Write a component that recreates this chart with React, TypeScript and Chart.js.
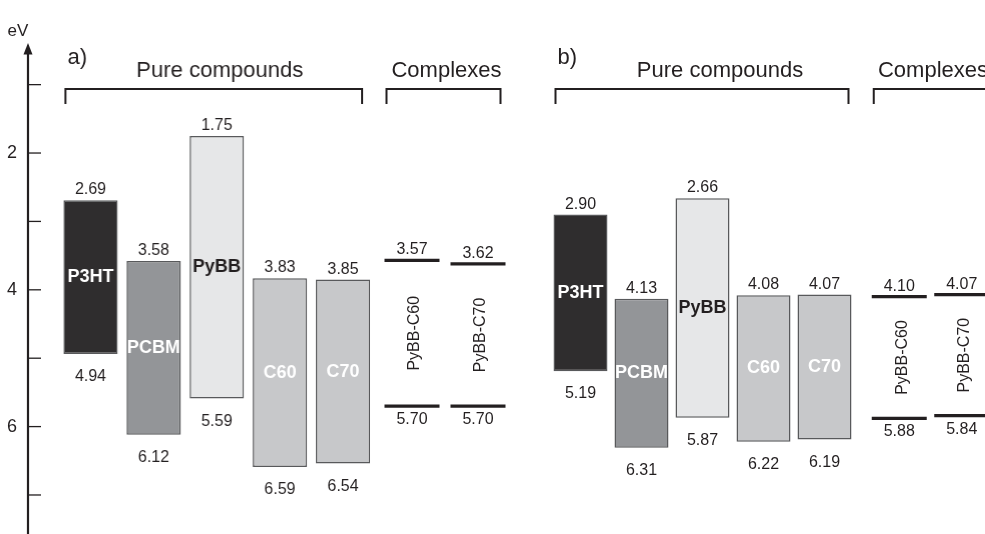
import React, { useEffect, useRef } from "react";
import { Chart, registerables } from "chart.js";

Chart.register(...registerables);

// ---------------- data ----------------
const compounds = ["P3HT", "PCBM", "PyBB", "C60", "C70"];
const complexes = ["PyBB-C60", "PyBB-C70"];

// panel a)
const lumoA = [2.69, 3.58, 1.75, 3.83, 3.85];
const homoA = [4.94, 6.12, 5.59, 6.59, 6.54];
const complexLumoA = [3.57, 3.62];
const complexHomoA = [5.7, 5.7];

// panel b)
const lumoB = [2.9, 4.13, 2.66, 4.08, 4.07];
const homoB = [5.19, 6.31, 5.87, 6.22, 6.19];
const complexLumoB = [4.1, 4.07];
const complexHomoB = [5.88, 5.84];

const yTickLabels = [2, 4, 6];
const panelLabels = ["a)", "b)"];
const groupTitles = ["Pure compounds", "Complexes"];
const axisTitle = "eV";

// ---------------- style ----------------
const FONT = "'Liberation Sans', Arial, Helvetica, sans-serif";
const INK = "#231f20";
const EDGE = "#58595b";
const FILL: Record<string, string> = {
  P3HT: "#2f2d2e",
  PCBM: "#939598",
  PyBB: "#e6e7e8",
  C60: "#c7c8ca",
  C70: "#c7c8ca",
};
const NAME_COLOR: Record<string, string> = {
  P3HT: "#ffffff",
  PCBM: "#ffffff",
  PyBB: INK,
  C60: "#ffffff",
  C70: "#ffffff",
};

const Y_MIN = 0.4;
const Y_MAX = 7.55;
const LAYOUT = { autoPadding: false, padding: { top: 43.6, bottom: 1.4, left: 0, right: 0 } };
const LINE_HALF = 27.5;

Chart.defaults.font.family = FONT;

type Group = {
  kind: "box" | "line";
  names: string[];
  top: number[];
  bottom: number[];
  title: string;
  panel: string | null;
  titleShift: number;
  rightTrim: number;
  barPct?: number;
};

const groups: Group[] = [
  { kind: "box", names: compounds, top: lumoA, bottom: homoA, title: groupTitles[0], panel: panelLabels[0], titleShift: 6, rightTrim: 8, barPct: 0.86 },
  { kind: "line", names: complexes, top: complexLumoA, bottom: complexHomoA, title: groupTitles[1], panel: null, titleShift: 3, rightTrim: 5 },
  { kind: "box", names: compounds, top: lumoB, bottom: homoB, title: groupTitles[0], panel: panelLabels[1], titleShift: 18, rightTrim: 3, barPct: 0.885 },
  { kind: "line", names: complexes, top: complexLumoB, bottom: complexHomoB, title: groupTitles[1], panel: null, titleShift: 3, rightTrim: 3 },
];

const frames = [
  { left: 59, width: 314.5 },
  { left: 378.5, width: 132 },
  { left: 550, width: 305 },
  { left: 868, width: 125 },
];

function hiddenY() {
  return { type: "linear", reverse: true, min: Y_MIN, max: Y_MAX, display: false };
}

const axisPlugin = {
  id: "axisDecor",
  afterDraw(chart: any) {
    const { ctx, chartArea } = chart;
    const ys = chart.scales.y;
    const x0 = chartArea.left;
    ctx.save();
    ctx.strokeStyle = INK;
    ctx.fillStyle = INK;
    ctx.lineWidth = 2.2;
    ctx.beginPath();
    ctx.moveTo(x0, chartArea.top + 6);
    ctx.lineTo(x0, chart.height);
    ctx.stroke();
    ctx.beginPath();
    ctx.moveTo(x0, chartArea.top - 0.5);
    ctx.lineTo(x0 - 4.5, chartArea.top + 11);
    ctx.lineTo(x0 + 4.5, chartArea.top + 11);
    ctx.closePath();
    ctx.fill();
    ctx.lineWidth = 1.3;
    ys.ticks.forEach((t: any) => {
      const py = ys.getPixelForValue(t.value);
      ctx.beginPath();
      ctx.moveTo(x0, py);
      ctx.lineTo(x0 + 13, py);
      ctx.stroke();
    });
    ctx.font = `17px ${FONT}`;
    ctx.textAlign = "center";
    ctx.textBaseline = "alphabetic";
    ctx.fillText(axisTitle, x0 - 10, chartArea.top - 8);
    ctx.restore();
  },
};

function makeAxisConfig(): any {
  return {
    type: "bar",
    data: { labels: [""], datasets: [] },
    options: {
      animation: false,
      responsive: true,
      maintainAspectRatio: false,
      events: [],
      layout: LAYOUT,
      plugins: { legend: { display: false }, tooltip: { enabled: false } },
      scales: {
        x: { display: false },
        y: {
          type: "linear",
          reverse: true,
          min: Y_MIN,
          max: Y_MAX,
          position: "left",
          grid: { display: false, drawTicks: false },
          border: { display: false },
          ticks: {
            stepSize: 1,
            includeBounds: false,
            autoSkip: false,
            padding: 11,
            color: INK,
            font: { family: FONT, size: 18 },
            callback: (v: any) => (yTickLabels.includes(Number(v)) ? String(v) : ""),
          },
          afterFit: (s: any) => {
            s.width = 28;
            s.paddingTop = 0;
            s.paddingBottom = 0;
          },
        },
      },
    },
    plugins: [axisPlugin],
  };
}

function groupPlugin(g: Group) {
  return {
    id: "groupDecor",
    afterDatasetsDraw(chart: any) {
      const { ctx } = chart;
      const xs = chart.scales.x;
      const ys = chart.scales.y;
      const n = g.names.length;
      let half = LINE_HALF;
      if (g.kind === "box") {
        const el = chart.getDatasetMeta(0).data[0];
        half = el ? el.width / 2 : LINE_HALF;
      }
      const left = xs.getPixelForValue(0) - half + 2;
      const right = xs.getPixelForValue(n - 1) + half - g.rightTrim;
      ctx.save();
      // bracket
      ctx.strokeStyle = INK;
      ctx.lineWidth = 2;
      ctx.lineJoin = "miter";
      ctx.lineCap = "butt";
      ctx.beginPath();
      ctx.moveTo(left, 104);
      ctx.lineTo(left, 89);
      ctx.lineTo(right, 89);
      ctx.lineTo(right, 104);
      ctx.stroke();
      // title & panel label
      ctx.fillStyle = INK;
      ctx.font = `22px ${FONT}`;
      ctx.textAlign = "center";
      ctx.textBaseline = "alphabetic";
      ctx.fillText(g.title, (left + right) / 2 + g.titleShift, 77);
      if (g.panel) {
        ctx.textAlign = "left";
        ctx.fillText(g.panel, left + 2, 64);
      }
      // values and names
      g.names.forEach((name, i) => {
        const cx = xs.getPixelForValue(i);
        const yt = ys.getPixelForValue(g.top[i]);
        const yb = ys.getPixelForValue(g.bottom[i]);
        ctx.fillStyle = INK;
        ctx.font = `16px ${FONT}`;
        ctx.textAlign = "center";
        ctx.textBaseline = "alphabetic";
        ctx.fillText(g.top[i].toFixed(2), cx, yt - 6);
        ctx.fillText(g.bottom[i].toFixed(2), cx, yb + (g.kind === "box" ? 27 : 18));
        if (g.kind === "box") {
          ctx.font = `bold 18px ${FONT}`;
          ctx.fillStyle = NAME_COLOR[name] || INK;
          ctx.textBaseline = "middle";
          ctx.fillText(name, cx, (yt + yb) / 2);
        } else {
          ctx.save();
          ctx.translate(cx + 3, (yt + yb) / 2);
          ctx.rotate(-Math.PI / 2);
          ctx.font = `16px ${FONT}`;
          ctx.fillStyle = INK;
          ctx.textAlign = "center";
          ctx.textBaseline = "middle";
          ctx.fillText(name, 0, 0);
          ctx.restore();
        }
      });
      ctx.restore();
    },
  };
}

function makeGroupConfig(g: Group): any {
  const common = {
    animation: false,
    responsive: true,
    maintainAspectRatio: false,
    events: [],
    layout: LAYOUT,
    plugins: { legend: { display: false }, tooltip: { enabled: false } },
  };
  if (g.kind === "box") {
    return {
      type: "bar",
      data: {
        labels: g.names,
        datasets: [
          {
            data: g.top.map((t, i) => [t, g.bottom[i]]),
            backgroundColor: g.names.map((n) => FILL[n]),
            borderColor: EDGE,
            borderWidth: 1.5,
            borderSkipped: false,
            barPercentage: g.barPct,
            categoryPercentage: 1,
          },
        ],
      },
      options: {
        ...common,
        scales: { x: { type: "category", display: false, offset: true }, y: hiddenY() },
      },
      plugins: [groupPlugin(g)],
    };
  }
  return {
    type: "line",
    data: {
      labels: g.names,
      datasets: [g.top, g.bottom].map((d) => ({
        data: d,
        showLine: false,
        pointStyle: "line",
        pointRadius: LINE_HALF,
        pointHoverRadius: LINE_HALF,
        pointBorderWidth: 3.3,
        pointBorderColor: INK,
        pointBackgroundColor: INK,
        clip: false,
      })),
    },
    options: {
      ...common,
      scales: { x: { type: "category", display: false, offset: true }, y: hiddenY() },
    },
    plugins: [groupPlugin(g)],
  };
}

function ChartBox({ left, width, make }: { left: number; width: number; make: () => any }) {
  const ref = useRef<HTMLCanvasElement>(null);
  useEffect(() => {
    const chart = new Chart(ref.current as HTMLCanvasElement, make());
    return () => chart.destroy();
  }, []);
  return (
    <div style={{ position: "absolute", left, top: 0, width, height: 534 }}>
      <canvas ref={ref} />
    </div>
  );
}

export default function App() {
  return (
    <div
      style={{
        position: "fixed",
        left: 0,
        top: 0,
        width: 985,
        height: 534,
        overflow: "hidden",
        background: "#ffffff",
      }}
    >
      <ChartBox left={0} width={50} make={makeAxisConfig} />
      {groups.map((g, i) => (
        <ChartBox key={i} left={frames[i].left} width={frames[i].width} make={() => makeGroupConfig(g)} />
      ))}
    </div>
  );
}
